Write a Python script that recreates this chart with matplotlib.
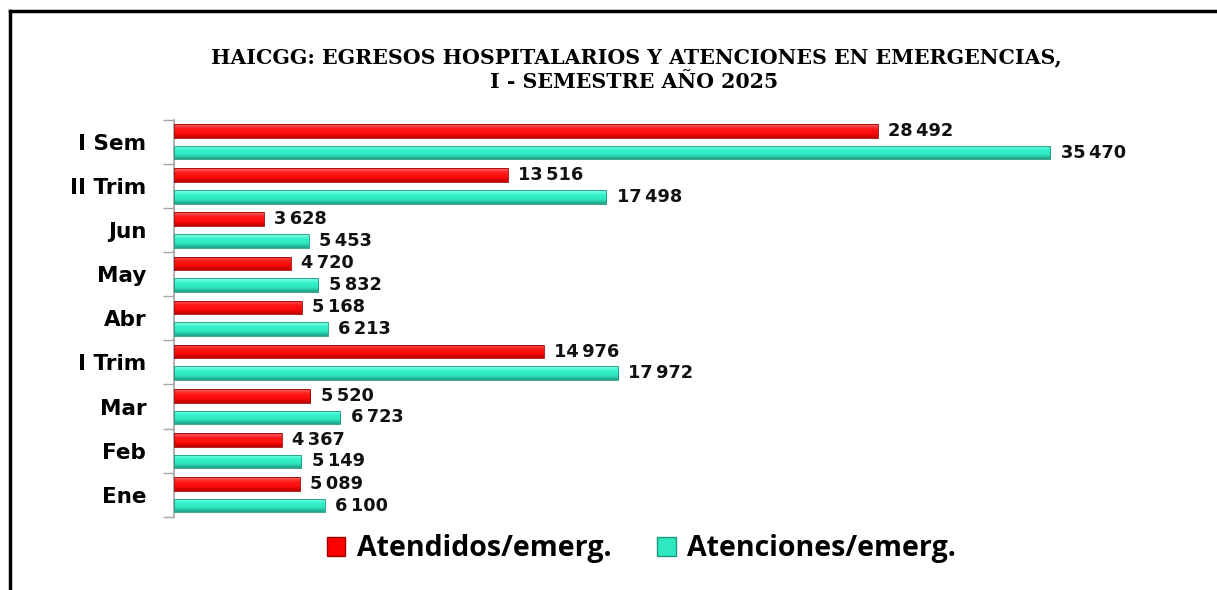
import numpy as np
import matplotlib
matplotlib.use("Agg")
import matplotlib.pyplot as plt
from matplotlib.patches import Patch
from matplotlib.lines import Line2D
from matplotlib.colors import LinearSegmentedColormap

# data (bottom to top)
categories = ["Ene", "Feb", "Mar", "I Trim", "Abr", "May", "Jun", "II Trim", "I Sem"]
atendidos = [5089, 4367, 5520, 14976, 5168, 4720, 3628, 13516, 28492]
atenciones = [6100, 5149, 6723, 17972, 6213, 5832, 5453, 17498, 35470]
series_names = ["Atendidos/emerg.", "Atenciones/emerg."]

red_cmap = LinearSegmentedColormap.from_list("r", ["#b80000", "#ff0a0a", "#ff1a1a", "#ff6a6a"])
teal_cmap = LinearSegmentedColormap.from_list("t", ["#1f9f84", "#2ee8c0", "#35f2cc", "#8ffbe6"])


def fmt(v):
    return f"{v:,}".replace(",", "\u2009")


def shade_bars(ax, bars, cmap):
    grad = np.linspace(0, 1, 64).reshape(-1, 1)
    for b in bars:
        x, y = b.get_x(), b.get_y()
        w, h = b.get_width(), b.get_height()
        im = ax.imshow(grad, cmap=cmap, aspect="auto", origin="lower",
                       extent=[x, x + w, y, y + h], zorder=2, interpolation="bilinear")
        im.set_clip_path(b)
        b.set_facecolor("none")


fig = plt.figure(figsize=(12.17, 5.9), dpi=100)
ax = fig.add_axes([0.143, 0.124, 0.812, 0.673])

y = np.arange(len(categories))
h = 0.31
b1 = ax.barh(y + 0.245, atendidos, height=h, color="#ff0000", edgecolor="#a00000", linewidth=0.6, zorder=3)
b2 = ax.barh(y - 0.245, atenciones, height=h, color="#2ee8c0", edgecolor="#1a9a80", linewidth=0.6, zorder=3)
shade_bars(ax, b1, red_cmap)
shade_bars(ax, b2, teal_cmap)

for bars, vals in [(b1, atendidos), (b2, atenciones)]:
    for b, v in zip(bars, vals):
        ax.annotate(fmt(v), (b.get_width(), b.get_y() + b.get_height() / 2),
                    xytext=(7.5, 0), textcoords="offset points", va="center", ha="left",
                    fontsize=12.8, fontweight="bold", family="DejaVu Sans", color="#111111")

ax.set_xlim(0, 40000)
ax.set_ylim(-0.5, len(categories) - 0.5)
ax.set_yticks(y)
ax.set_yticklabels(categories, fontsize=15.5, fontweight="bold", family="DejaVu Sans")
ax.set_yticks(np.arange(-0.5, len(categories), 1), minor=True)
ax.tick_params(axis="y", which="major", length=0, pad=20)
ax.tick_params(axis="y", which="minor", length=8, color="#a6a6a6", width=1)
ax.set_xticks([])
for s in ["top", "right", "bottom"]:
    ax.spines[s].set_visible(False)
ax.spines["left"].set_color("#a6a6a6")
ax.spines["left"].set_linewidth(1.2)

fig.text(0.523, 0.903, "HAICGG: EGRESOS HOSPITALARIOS Y ATENCIONES EN EMERGENCIAS,",
         ha="center", va="center", fontsize=14.8, fontweight="bold", family="DejaVu Serif")
fig.text(0.521, 0.861, "I - SEMESTRE AÑO 2025",
         ha="center", va="center", fontsize=14.8, fontweight="bold", family="DejaVu Serif")

handles = [Patch(facecolor="#ff0000", edgecolor="#a00000"),
           Patch(facecolor="#2ee8c0", edgecolor="#1a9a80")]
fig.legend(handles, series_names, loc="center", bbox_to_anchor=(0.527, 0.07), ncol=2,
           frameon=False, prop={"family": "Open Sans", "weight": "bold", "size": 20.5},
           handlelength=0.65, handleheight=0.65, handletextpad=0.4, columnspacing=1.6)

# frame lines (left and top)
fig.add_artist(Line2D([0.0085, 0.0085], [0.0, 0.982], color="black", lw=2.5, transform=fig.transFigure))
fig.add_artist(Line2D([0.0085, 1.0], [0.981, 0.981], color="black", lw=2.5, transform=fig.transFigure))

fig.savefig("out.png", dpi=100)
